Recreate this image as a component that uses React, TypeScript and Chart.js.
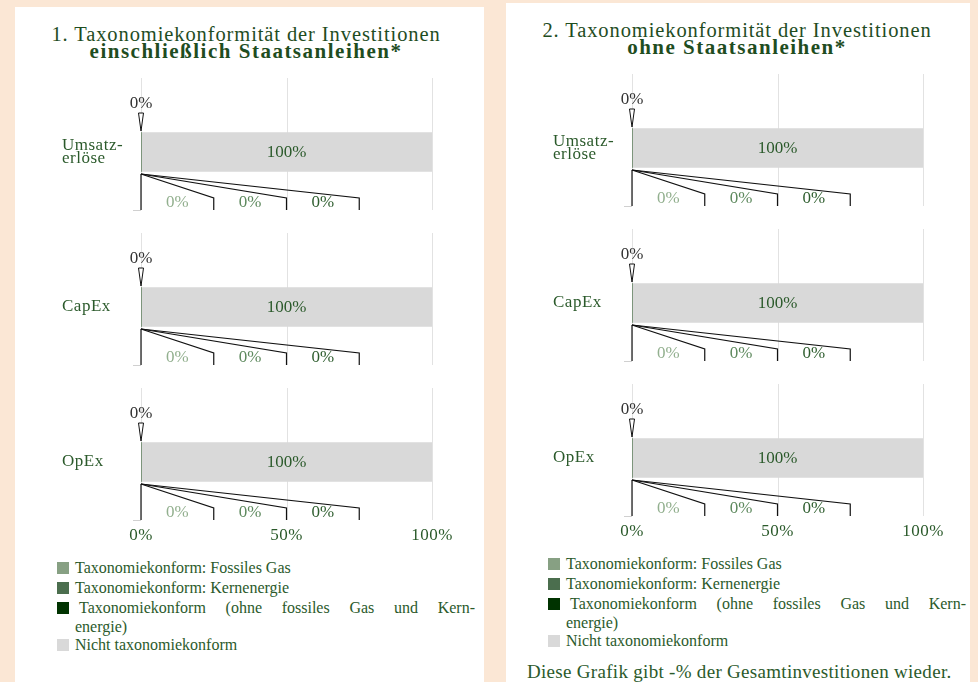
import React, { useEffect, useRef } from 'react';
import { Chart, registerables } from 'chart.js';

Chart.register(...registerables);

// ---------- data ----------
const CATEGORIES: string[][] = [['Umsatz-', 'erlöse'], ['CapEx'], ['OpEx']];
const X_TICKS = [0, 50, 100];

// Panel 1: einschließlich Staatsanleihen
const P1_GAS = [0, 0, 0];
const P1_NUCLEAR = [0, 0, 0];
const P1_OTHER = [0, 0, 0];
const P1_NOT = [100, 100, 100];

// Panel 2: ohne Staatsanleihen
const P2_GAS = [0, 0, 0];
const P2_NUCLEAR = [0, 0, 0];
const P2_OTHER = [0, 0, 0];
const P2_NOT = [100, 100, 100];

const LEGEND_LABELS = [
  'Taxonomiekonform: Fossiles Gas',
  'Taxonomiekonform: Kernenergie',
  'Taxonomiekonform (ohne fossiles Gas und Kern-',
  'energie)',
  'Nicht taxonomiekonform',
];
const FOOTER = 'Diese Grafik gibt -% der Gesamtinvestitionen wieder.';

// ---------- styles ----------
const FONT = '"Liberation Serif", "Times New Roman", serif';
const TEXT = '#2b5a2b';
const TITLE = '#1f4d1f';
const C_GAS = '#87a083';
const C_NUC = '#4b6e4e';
const C_OTHER = '#003300';
const C_NOT = '#d9d9d9';
const L_GAS = '#93b08f';
const L_NUC = '#5f8a5f';
const L_OTHER = '#2f5e2f';
const GRID = '#e2e2e2';
const BG = '#fbe7d5';

const UNIT = 155; // px between group centres
const G_TOP = 74;
const G_BOT = 58;
const AREA_H = 442;
const SLOTS = [25, 50, 75];

const calloutPlugin = {
  id: 'callouts',
  beforeDraw(chart: any) {
    chart.ctx.letterSpacing = '0.5px';
  },
  beforeDatasetsDraw(chart: any) {
    const { ctx } = chart;
    const xs = chart.scales.x;
    const ys = chart.scales.y;
    ctx.save();
    ctx.lineWidth = 1;
    for (let i = 0; i < CATEGORIES.length; i++) {
      const yc = ys.getPixelForValue(i);
      const top = yc - G_TOP;
      const bot = yc + G_BOT;
      ctx.strokeStyle = GRID;
      for (const v of X_TICKS) {
        const x = Math.round(xs.getPixelForValue(v)) + 0.5;
        ctx.beginPath();
        ctx.moveTo(x, top);
        ctx.lineTo(x, bot);
        ctx.stroke();
      }
      const x0 = xs.getPixelForValue(0);
      ctx.strokeStyle = '#d0d0d0';
      ctx.beginPath();
      ctx.moveTo(x0 - 8, Math.round(bot) + 0.5);
      ctx.lineTo(x0, Math.round(bot) + 0.5);
      ctx.stroke();
    }
    ctx.restore();
  },
  afterDatasetsDraw(chart: any) {
    const { ctx } = chart;
    const xs = chart.scales.x;
    const ds = chart.data.datasets;
    ctx.save();
    ctx.font = `17px ${FONT}`;
    ctx.letterSpacing = '0px';
    ctx.textAlign = 'center';
    ctx.textBaseline = 'middle';
    for (let i = 0; i < CATEGORIES.length; i++) {
      const notEl = chart.getDatasetMeta(3).data[i];
      const yc = notEl.y;
      // label in grey bar
      ctx.fillStyle = TEXT;
      ctx.fillText(`${ds[3].data[i].x}%`, (notEl.x + notEl.base) / 2, yc + 1);

      const x0 = chart.getDatasetMeta(0).data[i].base;
      const aligned = ds[0].data[i].x + ds[1].data[i].x + ds[2].data[i].x;
      // top pointer
      ctx.fillStyle = '#333333';
      ctx.fillText(`${aligned}%`, x0, yc - 48);
      ctx.beginPath();
      ctx.moveTo(x0 - 2.5, yc - 39);
      ctx.lineTo(x0 + 2.5, yc - 39);
      ctx.lineTo(x0, yc - 21);
      ctx.closePath();
      ctx.fillStyle = '#ffffff';
      ctx.fill();
      ctx.strokeStyle = '#111111';
      ctx.lineWidth = 1;
      ctx.stroke();

      // leader lines
      ctx.strokeStyle = '#111111';
      ctx.lineWidth = 1.2;
      ctx.beginPath();
      ctx.moveTo(x0, yc + 22);
      ctx.lineTo(x0, yc + G_BOT);
      ctx.stroke();
      const labelCols = [L_GAS, L_NUC, L_OTHER];
      let prev = 0;
      for (let k = 0; k < 3; k++) {
        const sx = xs.getPixelForValue(SLOTS[k]);
        const start = chart.getDatasetMeta(k).data[i].base;
        ctx.beginPath();
        ctx.moveTo(start, yc + 22);
        ctx.lineTo(sx, yc + 46);
        ctx.lineTo(sx, yc + G_BOT);
        ctx.stroke();
        const mid = xs.getPixelForValue((prev + SLOTS[k]) / 2);
        ctx.fillStyle = labelCols[k];
        ctx.fillText(`${ds[k].data[i].x}%`, mid, yc + 51);
        prev = SLOTS[k];
      }
    }
    ctx.restore();
  },
};

type PanelProps = {
  left: number;
  top: number;
  width: number;
  height: number;
  title1: string;
  title2: string;
  gas: number[];
  nuclear: number[];
  other: number[];
  not: number[];
  footer?: string;
};

const CANVAS_H = 543;

function Panel(p: PanelProps) {
  const ref = useRef<HTMLCanvasElement>(null);
  useEffect(() => {
    const toPts = (arr: number[]) => arr.map((v, i) => ({ x: v, y: i }));
    const chart = new Chart(ref.current as HTMLCanvasElement, {
      type: 'bar',
      data: {
        datasets: [
          { label: LEGEND_LABELS[0], data: toPts(p.gas), backgroundColor: C_GAS, barThickness: 39 },
          { label: LEGEND_LABELS[1], data: toPts(p.nuclear), backgroundColor: C_NUC, barThickness: 39 },
          { label: LEGEND_LABELS[2], data: toPts(p.other), backgroundColor: C_OTHER, barThickness: 39 },
          { label: LEGEND_LABELS[4], data: toPts(p.not), backgroundColor: C_NOT, barThickness: 39 },
        ] as any,
      },
      options: {
        indexAxis: 'y',
        responsive: false,
        animation: false,
        layout: {
          autoPadding: false,
          padding: { left: 47, right: p.width - 417, top: 71, bottom: 0 },
        },
        plugins: { legend: { display: false }, tooltip: { enabled: false } },
        scales: {
          x: {
            type: 'linear',
            stacked: true,
            min: 0,
            max: 100,
            afterBuildTicks: (s: any) => {
              s.ticks = X_TICKS.map((v) => ({ value: v }));
            },
            afterFit: (s: any) => {
              s.height = 30;
            },
            ticks: {
              callback: (v: any) => `${v}%`,
              color: TEXT,
              font: { family: FONT, size: 17 },
              padding: 5,
              maxRotation: 0,
            },
            grid: { display: false, drawTicks: false },
            border: { display: false },
          },
          y: {
            type: 'linear',
            stacked: true,
            reverse: true,
            offset: false,
            min: -G_TOP / UNIT,
            max: 2 + (AREA_H - (2 * UNIT + G_TOP)) / UNIT,
            afterBuildTicks: (s: any) => {
              s.ticks = CATEGORIES.map((_, i) => ({ value: i }));
            },
            afterFit: (s: any) => {
              s.width = 79;
            },
            ticks: {
              callback: (v: any) => CATEGORIES[v],
              crossAlign: 'far',
              color: TEXT,
              font: { family: FONT, size: 17, lineHeight: 0.72 },
              padding: 0,
            },
            grid: { display: false, drawTicks: false, offset: false },
            border: { display: false },
          },
        } as any,
      } as any,
      plugins: [calloutPlugin],
    });
    return () => chart.destroy();
  }, []);

  const rows = [561, 581, 601, 620, 638];
  const cols = [C_GAS, C_NUC, C_OTHER, null, C_NOT];
  return (
    <div
      style={{
        position: 'absolute',
        left: p.left,
        top: p.top,
        width: p.width,
        height: p.height,
        background: '#ffffff',
        fontFamily: FONT,
      }}
    >
      <div
        style={{
          position: 'absolute',
          left: 0,
          width: 462,
          top: 19,
          textAlign: 'center',
          color: TITLE,
          fontSize: 20.5,
          lineHeight: '17px',
          whiteSpace: 'nowrap',
        }}
      >
        <div style={{ letterSpacing: '0.9px' }}>{p.title1}</div>
        <div style={{ fontWeight: 'bold', fontSize: 21, letterSpacing: '1.5px' }}>{p.title2}</div>
      </div>
      <canvas
        ref={ref}
        width={p.width}
        height={CANVAS_H}
        style={{ position: 'absolute', left: 0, top: 0, width: p.width, height: CANVAS_H }}
      />
      {LEGEND_LABELS.map((t, k) => (
        <div key={k}>
          {cols[k] && (
            <div
              style={{
                position: 'absolute',
                left: 42,
                top: rows[k] - 6,
                width: 12,
                height: 12,
                background: cols[k] as string,
              }}
            />
          )}
          <div
            style={{
              position: 'absolute',
              left: k === 2 ? 64 : 59,
              top: rows[k] - 9,
              width: k === 2 ? 396 : 400,
              height: 18,
              lineHeight: '18px',
              fontSize: 16,
              color: TEXT,
              whiteSpace: 'nowrap',
              textAlign: k === 2 ? 'justify' : 'left',
              textAlignLast: k === 2 ? 'justify' : 'left',
              paddingLeft: k === 2 ? 0 : 1,
            } as any}
          >
            {t}
          </div>
        </div>
      ))}
      {p.footer && (
        <div
          style={{
            position: 'absolute',
            left: 21,
            top: 669 - 10,
            lineHeight: '20px',
            fontSize: 19,
            letterSpacing: '0.3px',
            color: TEXT,
            whiteSpace: 'nowrap',
          }}
        >
          {p.footer}
        </div>
      )}
    </div>
  );
}

export default function App() {
  return (
    <div
      style={{
        position: 'absolute',
        left: 0,
        top: 0,
        width: 978,
        height: 682,
        background: BG,
        overflow: 'hidden',
      }}
    >
      <Panel
        left={15}
        top={7}
        width={469}
        height={675}
        title1="1. Taxonomiekonformität der Investitionen"
        title2="einschließlich Staatsanleihen*"
        gas={P1_GAS}
        nuclear={P1_NUCLEAR}
        other={P1_OTHER}
        not={P1_NOT}
      />
      <Panel
        left={506}
        top={3}
        width={464}
        height={679}
        title1="2. Taxonomiekonformität der Investitionen"
        title2="ohne Staatsanleihen*"
        gas={P2_GAS}
        nuclear={P2_NUCLEAR}
        other={P2_OTHER}
        not={P2_NOT}
        footer={FOOTER}
      />
    </div>
  );
}
